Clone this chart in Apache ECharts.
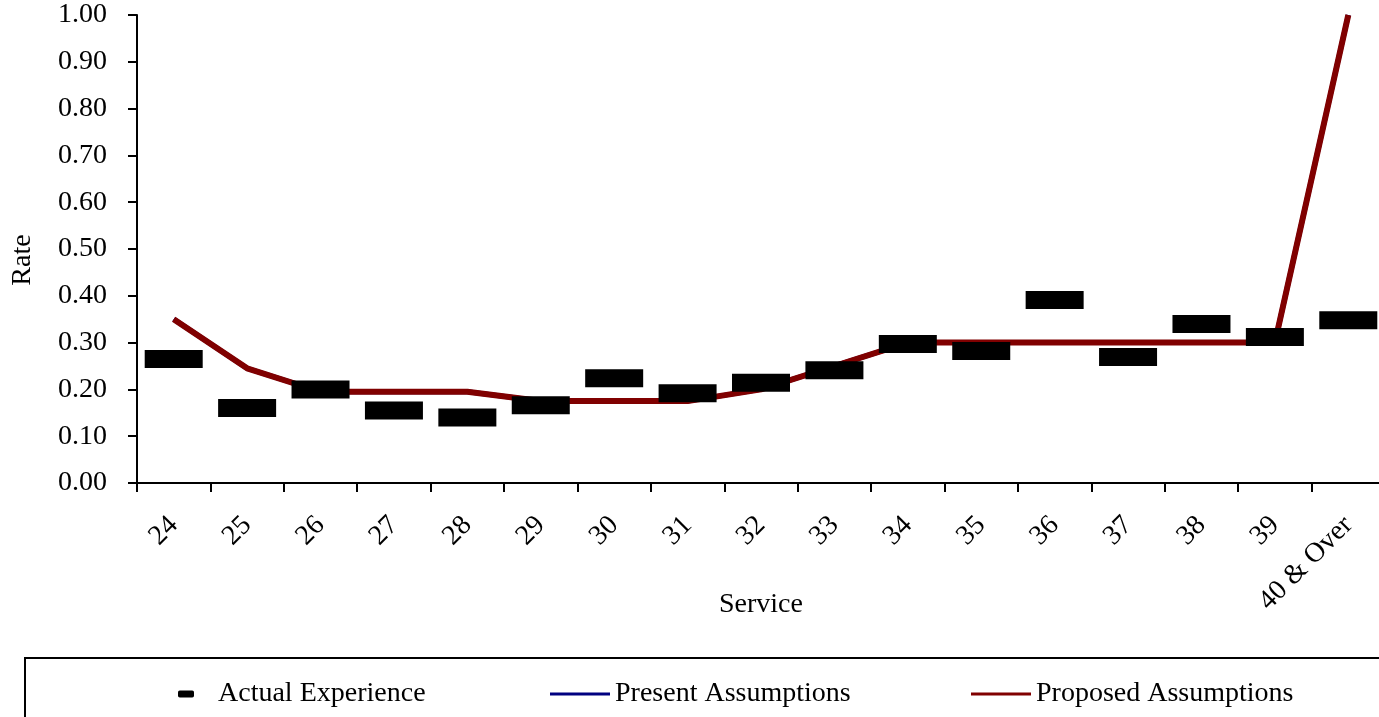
<!DOCTYPE html>
<html>
<head>
<meta charset="utf-8">
<title>Rate by Service</title>
<script src="https://cdn.jsdelivr.net/npm/echarts@6/dist/echarts.min.js"></script>
<style>
  html, body { margin: 0; padding: 0; background: #fff; }
  #chart { width: 1379px; height: 717px; }
</style>
</head>
<body>
<div id="chart"></div>
<script>
// Service categories along the x axis
const serviceCategories = ['24', '25', '26', '27', '28', '29', '30', '31', '32', '33',
  '34', '35', '36', '37', '38', '39', '40 & Over'];

// Observed rates
const actualExperience = [0.265, 0.160, 0.200, 0.155, 0.140, 0.166, 0.224, 0.192, 0.214,
  0.241, 0.297, 0.282, 0.391, 0.269, 0.340, 0.312, 0.348];

// Assumed rates (present assumptions coincide with the proposed ones and sit beneath them)
const presentAssumptions = [0.35, 0.245, 0.195, 0.195, 0.195, 0.175, 0.175, 0.175, 0.20,
  0.25, 0.30, 0.30, 0.30, 0.30, 0.30, 0.30, 1.00];
const proposedAssumptions = [0.35, 0.245, 0.195, 0.195, 0.195, 0.175, 0.175, 0.175, 0.20,
  0.25, 0.30, 0.30, 0.30, 0.30, 0.30, 0.30, 1.00];

// Y axis ticks
const rateMin = 0;
const rateMax = 1;
const rateStep = 0.1;

const FONT = "'Liberation Serif', 'Times New Roman', serif";
const chart = echarts.init(document.getElementById('chart'), null, { renderer: 'canvas' });

chart.setOption({
  backgroundColor: '#ffffff',
  animation: false,
  textStyle: { fontFamily: FONT, color: '#000' },
  grid: { left: 137, top: 15, width: 1248, height: 468, containLabel: false, outerBoundsMode: 'none' },
  xAxis: {
    type: 'category',
    data: serviceCategories,
    boundaryGap: true,
    name: 'Service',
    nameLocation: 'middle',
    nameGap: 108,
    nameMoveOverlap: false,
    nameTextStyle: { fontFamily: FONT, fontSize: 28, color: '#000' },
    axisLine: { lineStyle: { color: '#000', width: 2 } },
    axisTick: { show: true, inside: false, length: 9, interval: 0, lineStyle: { color: '#000', width: 2 } },
    axisLabel: { interval: 0, rotate: 45, margin: 38, fontFamily: FONT, fontSize: 28, color: '#000' },
    splitLine: { show: false }
  },
  yAxis: {
    type: 'value',
    min: rateMin,
    max: rateMax,
    interval: rateStep,
    axisLine: { show: true, lineStyle: { color: '#000', width: 2 } },
    axisTick: { show: true, inside: false, length: 9, lineStyle: { color: '#000', width: 2 } },
    axisLabel: {
      margin: 30, fontFamily: FONT, fontSize: 28, color: '#000',
      formatter: v => v.toFixed(2)
    },
    splitLine: { show: false }
  },
  legend: [
    {
      data: ['Actual Experience'],
      left: 173, top: 675,
      itemWidth: 16, itemHeight: 7,
      icon: 'roundRect',
      itemStyle: { opacity: 1 },
      textStyle: { fontFamily: FONT, fontSize: 28, color: '#000', padding: [0, 0, 0, 19] }
    },
    {
      data: ['Present Assumptions'],
      left: 545, top: 675,
      itemWidth: 60, itemHeight: 3,
      icon: 'rect',
      textStyle: { fontFamily: FONT, fontSize: 28, color: '#000' }
    },
    {
      data: ['Proposed Assumptions'],
      left: 966, top: 675,
      itemWidth: 60, itemHeight: 3,
      icon: 'rect',
      textStyle: { fontFamily: FONT, fontSize: 28, color: '#000' }
    }
  ],
  graphic: [
    {
      type: 'rect',
      shape: { x: 25, y: 658, width: 1370, height: 80 },
      style: { fill: 'none', stroke: '#000', lineWidth: 2 },
      silent: true
    },
    {
      type: 'text',
      x: 23, y: 260,
      rotation: Math.PI / 2,
      style: { text: 'Rate', x: 0, y: 0, align: 'center', verticalAlign: 'middle',
        font: "28px 'Liberation Serif', 'Times New Roman', serif", fill: '#000' },
      silent: true
    }
  ],
  series: [
    {
      name: 'Present Assumptions',
      type: 'line',
      data: presentAssumptions,
      symbol: 'none',
      color: '#000080',
      lineStyle: { color: '#000080', width: 5 },
      z: 2
    },
    {
      name: 'Proposed Assumptions',
      type: 'line',
      data: proposedAssumptions,
      symbol: 'none',
      color: '#800000',
      lineStyle: { color: '#800000', width: 6 },
      z: 3
    },
    {
      name: 'Actual Experience',
      type: 'scatter',
      data: actualExperience,
      symbol: 'rect',
      symbolSize: [58, 18],
      color: '#000',
      itemStyle: { color: '#000', opacity: 1 },
      z: 4
    }
  ]
});
</script>
</body>
</html>
